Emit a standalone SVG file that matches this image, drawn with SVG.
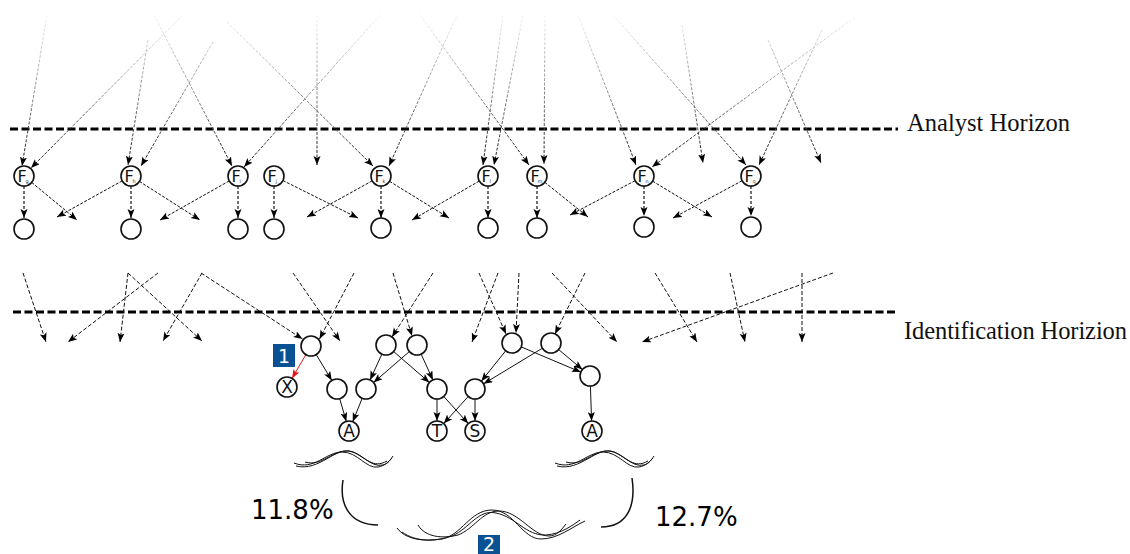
<svg xmlns="http://www.w3.org/2000/svg" width="1130" height="554" viewBox="0 0 1130 554">
<defs>
<style>
.bg{fill:#fff}
.hz{stroke:#000;stroke-width:3;stroke-dasharray:8 3.5;fill:none}
.hlab{font-family:"Liberation Serif",serif;font-size:24.5px;fill:#111}
.top{stroke:url(#fade);stroke-width:1;stroke-dasharray:3 1.5;fill:none;marker-end:url(#ah)}
.fd{stroke:#111;stroke-width:1;stroke-dasharray:3 1.5;fill:none;marker-end:url(#ah)}
.fv{stroke:#111;stroke-width:1.2;stroke-dasharray:3 2;fill:none;marker-end:url(#ah)}
.mid{stroke:#111;stroke-width:1;stroke-dasharray:4 2;fill:none;marker-end:url(#ah)}
.ed{stroke:#111;stroke-width:1;fill:none;marker-end:url(#ah)}
.red{stroke:#e8141a;stroke-width:1;fill:none;marker-end:url(#ahr)}
.nd{fill:#fff;stroke:#111;stroke-width:1.6}
.fl{font-family:"DejaVu Sans",sans-serif;font-size:16px;fill:#111;text-anchor:middle}
.sub{font-family:"DejaVu Sans",sans-serif;font-size:5px;fill:#333}
.ll{font-family:"DejaVu Sans",sans-serif;font-size:17px;fill:#111;text-anchor:middle}
.wv{stroke:#111;stroke-width:1;fill:none}
.br{stroke:#111;stroke-width:1.5;fill:none}
.pct{font-family:"DejaVu Sans",sans-serif;font-size:26px;fill:#000}
.badge{fill:#0a5193}
.bt{font-family:"DejaVu Sans",sans-serif;font-size:19px;fill:#fff;text-anchor:middle}
</style>
<linearGradient id="fade" gradientUnits="userSpaceOnUse" x1="0" y1="15" x2="0" y2="166">
<stop offset="0" stop-color="#f4f4f4"/>
<stop offset="0.45" stop-color="#9a9a9a"/>
<stop offset="1" stop-color="#111"/>
</linearGradient>
<marker id="ah" markerUnits="userSpaceOnUse" markerWidth="10" markerHeight="8" refX="9" refY="3.5" orient="auto">
<path d="M0,0 L9,3.5 L0,7 L2,3.5 z" fill="#000"/>
</marker>
<marker id="ahr" markerUnits="userSpaceOnUse" markerWidth="10" markerHeight="8" refX="9" refY="3.5" orient="auto">
<path d="M0,0 L9,3.5 L0,7 L2,3.5 z" fill="#e8141a"/>
</marker>
</defs>
<rect class="bg" x="0" y="0" width="1130" height="554"/>

<g id="horizons">
<line class="hz" x1="10" y1="129" x2="898" y2="129"/>
<text class="hlab" x="907" y="131" textLength="163">Analyst Horizon</text>
<line class="hz" x1="13" y1="312" x2="898" y2="312"/>
<text class="hlab" x="904" y="339" textLength="223">Identification Horizion</text>
</g>

<g id="connectors">
<!-- incoming from above analyst horizon -->
<line class="top" x1="47" y1="15" x2="22" y2="166"/>
<line class="top" x1="183" y1="15" x2="31" y2="168"/>
<line class="top" x1="148" y1="40" x2="128" y2="165"/>
<line class="top" x1="213" y1="42" x2="141" y2="166"/>
<line class="top" x1="154" y1="15" x2="232" y2="166"/>
<line class="top" x1="380" y1="15" x2="244" y2="167"/>
<line class="top" x1="317" y1="15" x2="317" y2="165"/>
<line class="top" x1="227" y1="22" x2="373" y2="166"/>
<line class="top" x1="457" y1="15" x2="389" y2="166"/>
<line class="top" x1="420" y1="15" x2="529" y2="165"/>
<line class="top" x1="503" y1="15" x2="483" y2="165"/>
<line class="top" x1="523" y1="15" x2="494" y2="165"/>
<line class="top" x1="545" y1="15" x2="544" y2="164"/>
<line class="top" x1="578" y1="15" x2="636" y2="165"/>
<line class="top" x1="613" y1="15" x2="746" y2="165"/>
<line class="top" x1="682" y1="25" x2="703" y2="163"/>
<line class="top" x1="855" y1="17" x2="652" y2="167"/>
<line class="top" x1="822" y1="30" x2="759" y2="165"/>
<line class="top" x1="768" y1="40" x2="821" y2="163"/>

<!-- F node outgoing -->
<line class="fv" x1="24" y1="186" x2="24" y2="218"/>
<line class="fd" x1="31.7" y1="182.4" x2="77" y2="220"/>
<line class="fd" x1="122.3" y1="180.8" x2="57" y2="217"/>
<line class="fv" x1="131" y1="186" x2="131" y2="218"/>
<line class="fd" x1="139.4" y1="181.4" x2="200" y2="220"/>
<line class="fd" x1="229.3" y1="180.9" x2="160" y2="220"/>
<line class="fv" x1="238" y1="186" x2="238" y2="218"/>
<line class="fv" x1="274" y1="186" x2="274" y2="218"/>
<line class="fd" x1="282.9" y1="180.5" x2="358" y2="218"/>
<line class="fd" x1="372.3" y1="180.8" x2="307" y2="217"/>
<line class="fv" x1="381" y1="186" x2="381" y2="218"/>
<line class="fd" x1="389.5" y1="181.3" x2="449" y2="218"/>
<line class="fd" x1="479.3" y1="181" x2="412" y2="220"/>
<line class="fv" x1="488" y1="186" x2="488" y2="218"/>
<line class="fv" x1="537" y1="186" x2="537" y2="218"/>
<line class="fd" x1="544.8" y1="182.3" x2="588" y2="217"/>
<line class="fd" x1="635.1" y1="180.7" x2="570" y2="215"/>
<line class="fv" x1="644" y1="186" x2="644" y2="216"/>
<line class="fd" x1="652.6" y1="181.2" x2="712" y2="217"/>
<line class="fd" x1="742.2" y1="180.7" x2="673" y2="218"/>
<line class="fv" x1="751" y1="186" x2="751" y2="216"/>

<!-- crossing identification horizon -->
<line class="mid" x1="23" y1="273" x2="46" y2="342"/>
<line class="mid" x1="158" y1="273" x2="68" y2="342"/>
<line class="mid" x1="128" y1="273" x2="120" y2="342"/>
<line class="mid" x1="128" y1="273" x2="202" y2="341"/>
<line class="mid" x1="202" y1="273" x2="163" y2="341"/>
<line class="mid" x1="201" y1="273" x2="302.5" y2="339"/>
<line class="mid" x1="293" y1="273" x2="340" y2="341"/>
<line class="mid" x1="354" y1="273" x2="319.5" y2="339"/>
<line class="mid" x1="393" y1="273" x2="412" y2="336"/>
<line class="mid" x1="433" y1="273" x2="392" y2="337"/>
<line class="mid" x1="498" y1="273" x2="472" y2="342"/>
<line class="mid" x1="479" y1="273" x2="506" y2="334"/>
<line class="mid" x1="519" y1="273" x2="516" y2="333"/>
<line class="mid" x1="585" y1="273" x2="555" y2="334"/>
<line class="mid" x1="552" y1="273" x2="617" y2="342"/>
<line class="mid" x1="655" y1="273" x2="697" y2="342"/>
<line class="mid" x1="730" y1="273" x2="745" y2="342"/>
<line class="mid" x1="802" y1="273" x2="802" y2="342"/>
<line class="mid" x1="833" y1="273" x2="642" y2="342"/>

<!-- identified graph -->
<line class="red" x1="305.9" y1="354.6" x2="292" y2="378.4"/>
<line class="ed" x1="316.2" y1="354.6" x2="331.8" y2="380.4"/>
<line class="ed" x1="339.7" y1="398.6" x2="346.3" y2="421.4"/>
<line class="ed" x1="362.2" y1="398.3" x2="352.7" y2="421.7"/>
<line class="ed" x1="381.9" y1="354.1" x2="370.1" y2="379.9"/>
<line class="ed" x1="409.4" y1="351.5" x2="373.6" y2="382.5"/>
<line class="ed" x1="393.6" y1="351.5" x2="429.4" y2="382.5"/>
<line class="ed" x1="421.1" y1="354.1" x2="432.9" y2="379.9"/>
<line class="ed" x1="437" y1="399" x2="437" y2="421"/>
<line class="ed" x1="443.7" y1="396.4" x2="468.3" y2="423.6"/>
<line class="ed" x1="468.3" y1="396.4" x2="443.7" y2="423.6"/>
<line class="ed" x1="475" y1="399" x2="475" y2="421"/>
<line class="ed" x1="505.7" y1="350.8" x2="481.3" y2="381.2"/>
<line class="ed" x1="542.4" y1="348.2" x2="483.6" y2="383.8"/>
<line class="ed" x1="521.2" y1="346.9" x2="580.8" y2="372.1"/>
<line class="ed" x1="558.6" y1="349.5" x2="582.4" y2="369.5"/>
<line class="ed" x1="590.4" y1="386" x2="591.6" y2="421"/>
</g>

<g id="F_g"><circle class="nd" cx="24" cy="176" r="10"/><text class="fl" x="22" y="182">F</text><text class="sub" x="25.5" y="183">g</text></g>
<g id="F_h"><circle class="nd" cx="131" cy="176" r="10"/><text class="fl" x="129" y="182">F</text><text class="sub" x="132.5" y="183">h</text></g>
<g id="F_i"><circle class="nd" cx="238" cy="176" r="10"/><text class="fl" x="236" y="182">F</text><text class="sub" x="239.5" y="183">i</text></g>
<g id="F_j"><circle class="nd" cx="274" cy="176" r="10"/><text class="fl" x="272" y="182">F</text><text class="sub" x="275.5" y="183">j</text></g>
<g id="F_k"><circle class="nd" cx="381" cy="176" r="10"/><text class="fl" x="379" y="182">F</text><text class="sub" x="382.5" y="183">k</text></g>
<g id="F_l"><circle class="nd" cx="488" cy="176" r="10"/><text class="fl" x="486" y="182">F</text><text class="sub" x="489.5" y="183">l</text></g>
<g id="F_m"><circle class="nd" cx="537" cy="176" r="10"/><text class="fl" x="535" y="182">F</text><text class="sub" x="537.5" y="183">m</text></g>
<g id="F_n"><circle class="nd" cx="644" cy="176" r="10"/><text class="fl" x="642" y="182">F</text><text class="sub" x="645.5" y="183">n</text></g>
<g id="F_q"><circle class="nd" cx="751" cy="176" r="10"/><text class="fl" x="749" y="182">F</text><text class="sub" x="752.5" y="183">q</text></g>

<g id="c_g"><circle class="nd" cx="24" cy="229" r="10"/></g>
<g id="c_h"><circle class="nd" cx="131" cy="229" r="10"/></g>
<g id="c_i"><circle class="nd" cx="238" cy="229" r="10"/></g>
<g id="c_j"><circle class="nd" cx="274" cy="229" r="10"/></g>
<g id="c_k"><circle class="nd" cx="381" cy="228" r="10"/></g>
<g id="c_l"><circle class="nd" cx="488" cy="228" r="10"/></g>
<g id="c_m"><circle class="nd" cx="537" cy="228" r="10"/></g>
<g id="c_n"><circle class="nd" cx="644" cy="227" r="10"/></g>
<g id="c_q"><circle class="nd" cx="751" cy="227" r="10"/></g>

<g id="N1"><circle class="nd" cx="311" cy="346" r="10"/></g>
<g id="X"><circle class="nd" cx="287" cy="387" r="10"/><text class="ll" x="287" y="393">X</text></g>
<g id="N3"><circle class="nd" cx="337" cy="389" r="10"/></g>
<g id="N4"><circle class="nd" cx="366" cy="389" r="10"/></g>
<g id="A1"><circle class="nd" cx="349" cy="431" r="10"/><text class="ll" x="349" y="437">A</text></g>
<g id="N2"><circle class="nd" cx="386" cy="345" r="10"/></g>
<g id="N5"><circle class="nd" cx="417" cy="345" r="10"/></g>
<g id="N6"><circle class="nd" cx="437" cy="389" r="10"/></g>
<g id="N7"><circle class="nd" cx="475" cy="389" r="10"/></g>
<g id="T"><circle class="nd" cx="437" cy="431" r="10"/><text class="ll" x="437" y="437">T</text></g>
<g id="S"><circle class="nd" cx="475" cy="431" r="10"/><text class="ll" x="475" y="437">S</text></g>
<g id="N8"><circle class="nd" cx="512" cy="343" r="10"/></g>
<g id="N9"><circle class="nd" cx="551" cy="343" r="10"/></g>
<g id="N10"><circle class="nd" cx="590" cy="376" r="10"/></g>
<g id="A2"><circle class="nd" cx="592" cy="431" r="10"/><text class="ll" x="592" y="437">A</text></g>

<g id="badge1"><rect class="badge" x="273" y="344" width="22" height="23"/><text class="bt" x="284" y="362.5">1</text></g>

<g id="waves">
<path class="wv" d="M294,463 C314,471 326,452 342,452 C358,452 366,469 378,467 C385,466 389,461 392,458"/>
<path class="wv" d="M305,462 C322,467 332,450 348,451 C362,452 370,468 383,465 C388,464 391,459 393,456"/>
<path class="wv" d="M296,466 C320,472 336,445 353,452 C366,458 373,469 387,461"/>
<path class="wv" d="M555,463 C575,471 587,452 603,452 C619,452 627,469 639,467 C646,466 650,461 653,458"/>
<path class="wv" d="M566,462 C583,467 593,450 609,451 C623,452 631,468 644,465 C649,464 652,459 654,456"/>
<path class="wv" d="M557,466 C581,472 597,445 614,452 C627,458 634,469 648,461"/>
<path class="wv" d="M397,528 C405,539 422,542 442,539 C462,535 470,510 492,510 C514,510 522,539 541,539 C558,539 572,527 585,521"/>
<path class="wv" d="M418,525 C425,537 442,539 458,535 C474,529 482,511 499,511 C519,511 532,536 549,536 C557,536 562,529 566,524"/>
<path class="wv" d="M402,532 C416,542 434,542 452,536 C470,528 478,509 496,513 C516,517 526,536 546,535 C561,534 573,525 580,520"/>
</g>

<g id="brackets">
<path class="br" d="M343,480 C339,505 350,525 378,525"/>
<path class="br" d="M632,478 C636,505 628,527 601,527"/>
</g>

<g id="labels">
<text class="pct" x="251" y="519">11.8%</text>
<text class="pct" x="655" y="526">12.7%</text>
</g>

<g id="badge2"><rect class="badge" x="478" y="535" width="22" height="22"/><text class="bt" x="489" y="551">2</text></g>
</svg>
